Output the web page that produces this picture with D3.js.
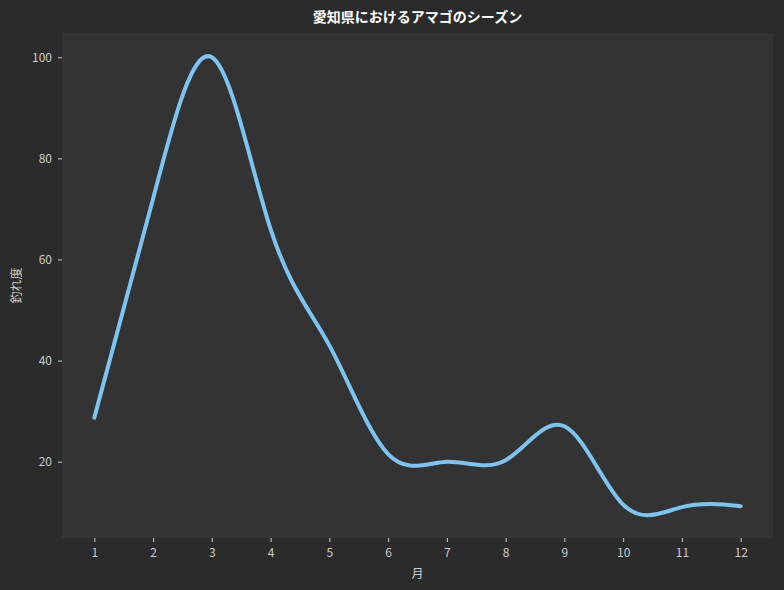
<!DOCTYPE html>
<html><head><meta charset="utf-8">
<script src="https://cdn.jsdelivr.net/npm/d3@7"></script>
<style>body{margin:0;background:#2b2b2b}text{font-family:"Noto Sans CJK JP",sans-serif}</style>
</head><body><div id="chart"></div>
<script>
const months = [1, 2, 3, 4, 5, 6, 7, 8, 9, 10, 11, 12];
const catchRate = [28.7, 72, 100, 66, 43, 21.5, 20, 20.3, 27, 11.5, 11, 11.2];
const yTicks = [20, 40, 60, 80, 100];

const width = 784, height = 590;
const m = {top: 33, right: 11, bottom: 52, left: 62};
const svg = d3.select("#chart").append("svg").attr("width", width).attr("height", height);
svg.append("rect").attr("width", width).attr("height", height).attr("fill", "#2b2b2b");

const x = d3.scaleLinear().domain([0.45, 12.55]).range([m.left, width - m.right]);
const y = d3.scaleLinear().domain([4.9, 104.8]).range([height - m.bottom, m.top]);

svg.append("rect").attr("x", m.left).attr("y", m.top)
  .attr("width", width - m.left - m.right).attr("height", height - m.top - m.bottom)
  .attr("fill", "#333333");

const xAxis = svg.append("g").attr("transform", `translate(0,${height - m.bottom})`)
  .call(d3.axisBottom(x).tickValues(months).tickSize(4).tickPadding(6));
const yAxis = svg.append("g").attr("transform", `translate(${m.left},0)`)
  .call(d3.axisLeft(y).tickValues(yTicks).tickSize(4).tickPadding(6));
[xAxis, yAxis].forEach(a => {
  a.select(".domain").remove();
  a.selectAll("line").attr("stroke", "#cccccc");
  a.selectAll("text").attr("fill", "#cccccc").style("font-size", "12px");
});

svg.append("path").datum(months.map((d, i) => [d, catchRate[i]]))
  .attr("fill", "none").attr("stroke", "#7cc4f2").attr("stroke-width", 4)
  .attr("stroke-linecap", "round")
  .attr("d", d3.line().x(d => x(d[0])).y(d => y(d[1])).curve(d3.curveNatural));

svg.append("text").attr("x", (m.left + width - m.right) / 2).attr("y", 22)
  .attr("text-anchor", "middle").attr("fill", "#ffffff")
  .style("font-size", "14px").style("font-weight", "bold").text("愛知県におけるアマゴのシーズン");
svg.append("text").attr("x", (m.left + width - m.right) / 2).attr("y", 578)
  .attr("text-anchor", "middle").attr("fill", "#cccccc").style("font-size", "12px").text("月");
svg.append("text").attr("transform", `translate(21,${(m.top + height - m.bottom) / 2}) rotate(-90)`)
  .attr("text-anchor", "middle").attr("fill", "#cccccc").style("font-size", "12px").text("釣れ度");
</script></body></html>
